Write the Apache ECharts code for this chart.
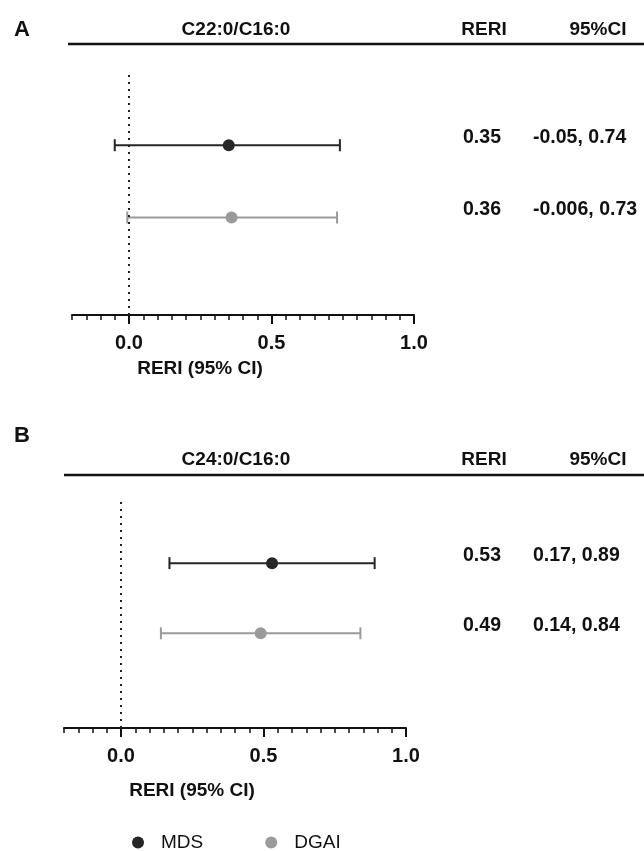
<!DOCTYPE html>
<html>
<head>
<meta charset="utf-8">
<script src="https://cdn.jsdelivr.net/npm/echarts@6/dist/echarts.min.js"></script>
<style>
  html, body { margin: 0; padding: 0; background: #fff; }
  #chart { width: 644px; height: 851px; }
</style>
</head>
<body>
<div id="chart"></div>
<script>
// groups (legend) and rows
const groups = ['MDS', 'DGAI'];
const groupColors = ['#262626', '#9a9a9a'];
const rowPos = [2, 1]; // MDS on the upper row, DGAI below

const panelLetters = ['A', 'B'];
const panelTitles = ['C22:0/C16:0', 'C24:0/C16:0'];
const colHeads = ['RERI', '95%CI'];

// panel A
const reriA = [0.35, 0.36];
const lowA = [-0.05, -0.006];
const highA = [0.74, 0.73];
// panel B
const reriB = [0.53, 0.49];
const lowB = [0.17, 0.14];
const highB = [0.89, 0.84];

const majorTicks = [0, 0.5, 1.0];
const xName = 'RERI (95% CI)';

const FONT = '"Liberation Sans", Arial, sans-serif';
const INK = '#111';

// layout of the two panels (pixels)
const panels = [
    { top: 73, axisY: 315, left: 72, right: 414, lineLeft: 68, lineY: 44, headY: 30, letterY: 30, nameGap: 44, yMin: -0.35, yMax: 3.0 },
    { top: 500, axisY: 728, left: 64, right: 406, lineLeft: 64, lineY: 475, headY: 460, letterY: 436, nameGap: 53, yMin: -0.35, yMax: 2.9 }
];
const panelData = [
    { reri: reriA, low: lowA, high: highA },
    { reri: reriB, low: lowB, high: highB }
];

const myChart = echarts.init(document.getElementById('chart'), null, { renderer: 'canvas' });

function renderWhisker(params, api) {
    const y = api.value(1);
    const lo = api.coord([api.value(2), y]);
    const hi = api.coord([api.value(3), y]);
    const color = api.visual('color');
    const st = { stroke: color, lineWidth: 2 };
    const txt = { fill: INK, font: 'bold 19.5px ' + FONT, verticalAlign: 'middle' };
    return {
        type: 'group',
        children: [
            { type: 'line', shape: { x1: lo[0], y1: lo[1], x2: hi[0], y2: hi[1] }, style: st },
            { type: 'line', shape: { x1: lo[0], y1: lo[1] - 6, x2: lo[0], y2: lo[1] + 6 }, style: st },
            { type: 'line', shape: { x1: hi[0], y1: hi[1] - 6, x2: hi[0], y2: hi[1] + 6 }, style: st },
            { type: 'text', x: 482, y: lo[1] - 8, style: Object.assign({ text: String(api.value(0)), align: 'center' }, txt) },
            { type: 'text', x: 533, y: lo[1] - 8, style: Object.assign({ text: api.value(2) + ', ' + api.value(3), align: 'left' }, txt) }
        ]
    };
}

const grid = [], xAxis = [], yAxis = [], series = [], graphic = [];

panels.forEach((p, i) => {
    grid.push({ left: p.left, top: p.top, width: p.right - p.left, height: p.axisY - p.top });

    // main axis: line, minor ticks, labels, name
    xAxis.push({
        type: 'value', gridIndex: i, position: 'bottom', min: -0.2, max: 1.0, interval: 0.05,
        axisLine: { show: true, onZero: false, lineStyle: { color: INK, width: 2 } },
        axisTick: { show: true, length: 5, lineStyle: { color: INK, width: 1.5 } },
        axisLabel: {
            customValues: majorTicks, margin: 18,
            fontSize: 20, fontWeight: 'bold', fontFamily: FONT, color: INK,
            formatter: v => v.toFixed(1)
        },
        splitLine: { show: false },
        name: xName, nameLocation: 'middle', nameGap: p.nameGap,
        nameTextStyle: { fontSize: 19, fontWeight: 'bold', fontFamily: FONT, color: INK, padding: [0, 86, 0, 0] }
    });
    // second axis only for the longer major ticks
    xAxis.push({
        type: 'value', gridIndex: i, position: 'bottom', min: -0.2, max: 1.0,
        axisLine: { show: false, onZero: false },
        axisTick: { show: true, customValues: majorTicks, length: 9, lineStyle: { color: INK, width: 2 } },
        axisLabel: { show: false },
        splitLine: { show: false }
    });
    yAxis.push({ type: 'value', gridIndex: i, min: p.yMin, max: p.yMax, show: false });

    const d = panelData[i];
    groups.forEach((g, k) => {
        series.push({
            name: g, type: 'custom', xAxisIndex: i * 2, yAxisIndex: i,
            itemStyle: { color: groupColors[k] },
            encode: { x: [0, 2, 3], y: 1 },
            renderItem: renderWhisker,
            data: [[d.reri[k], rowPos[k], d.low[k], d.high[k]]],
            z: 2
        });
        const sc = {
            name: g, type: 'scatter', xAxisIndex: i * 2, yAxisIndex: i,
            symbol: 'circle', symbolSize: 12,
            itemStyle: { color: groupColors[k], opacity: 1 },
            data: [[d.reri[k], rowPos[k]]],
            z: 3
        };
        if (k === 0) {
            sc.markLine = {
                silent: true, symbol: ['none', 'none'],
                label: { show: false },
                lineStyle: { color: '#222', width: 2, type: [2, 5] },
                data: [{ xAxis: 0 }]
            };
        }
        series.push(sc);
    });

    // header: letter, title, column heads, rule
    graphic.push(
        { type: 'text', left: 14, top: p.letterY - 11, style: { text: panelLetters[i], font: 'bold 22px ' + FONT, fill: INK } },
        { type: 'text', x: 236, y: p.headY, style: { text: panelTitles[i], font: 'bold 19px ' + FONT, fill: INK, align: 'center', verticalAlign: 'middle' } },
        { type: 'text', x: 484, y: p.headY, style: { text: colHeads[0], font: 'bold 19px ' + FONT, fill: INK, align: 'center', verticalAlign: 'middle' } },
        { type: 'text', x: 598, y: p.headY, style: { text: colHeads[1], font: 'bold 19px ' + FONT, fill: INK, align: 'center', verticalAlign: 'middle' } },
        { type: 'line', shape: { x1: p.lineLeft, y1: p.lineY, x2: 644, y2: p.lineY }, style: { stroke: INK, lineWidth: 2.5 } }
    );
});

const option = {
    backgroundColor: '#fff',
    animation: false,
    grid: grid,
    xAxis: xAxis,
    yAxis: yAxis,
    legend: {
        data: groups.map(g => ({ name: g, icon: 'circle' })),
        left: 127, top: 828,
        itemWidth: 12, itemHeight: 12, itemGap: 62,
        textStyle: { fontSize: 19, fontFamily: FONT, color: INK, padding: [0, 0, 0, 12] }
    },
    graphic: graphic,
    series: series
};

myChart.setOption(option);

window.addEventListener('resize', function() {
    myChart.resize();
});
</script>
</body>
</html>
